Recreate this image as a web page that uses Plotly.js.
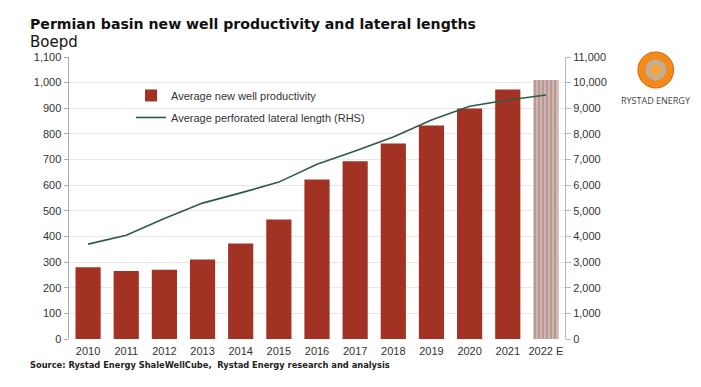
<!DOCTYPE html>
<html><head><meta charset="utf-8">
<script src="https://cdn.plot.ly/plotly-3.0.1.min.js"></script>
<style>html,body{margin:0;padding:0;background:#fff;}#c{width:701px;height:387px;}</style>
</head><body><div id="c"></div>
<script>
const years = ['2010','2011','2012','2013','2014','2015','2016','2017','2018','2019','2020','2021','2022 E'];
const productivity = [280,265,270,310,373,466,622,693,763,833,899,973,1010];
const lateralLength = [3700,4050,4700,5300,5700,6120,6820,7330,7880,8540,9080,9320,9520];
const leftTicks = [0,100,200,300,400,500,600,700,800,900,1000,1100];
const rightTicks = [0,1000,2000,3000,4000,5000,6000,7000,8000,9000,10000,11000];

const barColors = years.map((y,i)=> i===years.length-1 ? '#d4b4ae' : '#a23224');
const patternShapes = years.map((y,i)=> i===years.length-1 ? '|' : '');

const traces = [
  {type:'bar', x:years, y:productivity, name:'Average new well productivity', legendgroup:'a',
   marker:{color:barColors, line:{width:0},
     pattern:{shape:patternShapes, fgcolor:'#ad857e', size:4, solidity:0.22, fillmode:'overlay'}},
   width:0.66, hoverinfo:'skip'},
  {type:'scatter', mode:'lines', x:years, y:lateralLength, yaxis:'y2', legendgroup:'b',
   name:'Average perforated lateral length (RHS)', line:{color:'#2d5c45', width:1.6}, hoverinfo:'skip'}
];

const tickFont = {family:'Liberation Sans, Arial, sans-serif', size:11, color:'#333'};
const layout = {
  width:701, height:387,
  margin:{l:69, r:136, t:57, b:48},
  paper_bgcolor:'#fff', plot_bgcolor:'#fff',
  showlegend:true,
  legend:{x:0.125, y:0.915, xanchor:'left', yanchor:'top', bgcolor:'rgba(0,0,0,0)',
    font:{family:'Liberation Sans, Arial, sans-serif', size:11, color:'#333'},
    itemwidth:30, traceorder:'grouped', tracegroupgap:3},
  bargap:0.34,
  xaxis:{type:'category', showgrid:false, ticks:'', tickfont:tickFont, showline:false, zeroline:false,
    ticklabelstandoff:4},
  yaxis:{range:[0,1100], tickvals:leftTicks, ticktext:leftTicks.map(v=>v.toLocaleString('en-US')),
    showgrid:true, gridcolor:'#e8e8e8', gridwidth:1, zeroline:false,
    showline:true, linecolor:'#aaaaaa', linewidth:1.5, ticks:'outside', ticklen:4, tickcolor:'#aaaaaa',
    tickfont:tickFont},
  yaxis2:{overlaying:'y', side:'right', range:[0,11000], tickvals:rightTicks,
    ticktext:rightTicks.map(v=>v.toLocaleString('en-US')), showgrid:false, zeroline:false,
    showline:true, linecolor:'#a9c0bb', linewidth:1, ticks:'outside', ticklen:5, tickcolor:'#a9c0bb',
    tickfont:tickFont},
  annotations:[
    {xref:'paper', yref:'paper', x:-0.083, y:1.082, xanchor:'left', yanchor:'bottom', showarrow:false,
     text:'<b>Permian basin new well productivity and lateral lengths</b>',
     font:{family:'DejaVu Sans, Verdana, sans-serif', size:14.1, color:'#111'}},
    {xref:'paper', yref:'paper', x:-0.083, y:1.015, xanchor:'left', yanchor:'bottom', showarrow:false,
     text:'Boepd', font:{family:'DejaVu Sans, Verdana, sans-serif', size:15, color:'#111'}},
    {xref:'paper', yref:'paper', x:-0.083, y:-0.092, xanchor:'left', yanchor:'middle', showarrow:false,
     text:'<b>Source: Rystad Energy ShaleWellCube,  Rystad Energy research and analysis</b>',
     font:{family:'DejaVu Sans, Verdana, sans-serif', size:8.3, color:'#222'}},
    {xref:'paper', yref:'paper', x:1.183, y:0.844, xanchor:'center', yanchor:'middle', showarrow:false,
     text:'RYSTAD ENERGY', font:{family:'Open Sans, DejaVu Sans, sans-serif', size:9, color:'#444'}}
  ],
  shapes:[
    {type:'circle', xref:'paper', yref:'paper', x0:1.147, x1:1.219, y0:0.89, y1:1.018,
     fillcolor:'#f28a1c', line:{color:'#d9620e', width:1}},
    {type:'circle', xref:'paper', yref:'paper', x0:1.162, x1:1.204, y0:0.917, y1:0.991,
     fillcolor:'#b5b5b5', line:{width:0}, opacity:0.8},
    {type:'circle', xref:'paper', yref:'paper', x0:1.172, x1:1.194, y0:0.934, y1:0.974,
     fillcolor:'#f7a43c', line:{width:0}}
  ]
};
Plotly.newPlot('c', traces, layout, {displayModeBar:false, staticPlot:true});
</script></body></html>
